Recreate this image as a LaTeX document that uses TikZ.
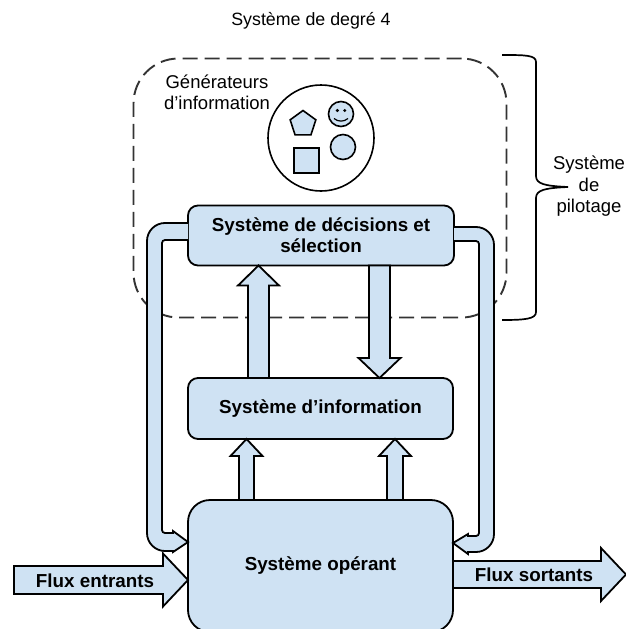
\documentclass[tikz,border=0pt]{standalone}
\usepackage{fontspec}
\setmainfont{Liberation Sans}
\usepackage{tikz}
\usetikzlibrary{shapes.geometric,calc}

\definecolor{lightblue}{HTML}{CFE2F3}
\definecolor{dashgray}{HTML}{333333}

\tikzset{
    box/.style = {draw=black,fill=lightblue,line width=1.8pt,rounded corners=10pt,
                  inner sep=0pt,outer sep=0pt,align=center,
                  font=\fontsize{18.8}{21}\selectfont\bfseries},
   flow/.style = {draw=black,fill=lightblue,line width=1.8pt},
  token/.style = {draw=black,fill=lightblue,line width=1.6pt,inner sep=0pt,outer sep=0pt},
  plain/.style = {inner sep=0pt,align=center,font=\fontsize{18.5}{21.5}\selectfont},
  label/.style = {inner sep=0pt,font=\fontsize{18.8}{21}\selectfont\bfseries}
}

% base, tip, half shaft, half head, head length
\newcommand{\blockarrow}[5]{
\coordinate (neck) at ($(#2)!#5!(#1)$);
\draw[flow] ($(#1)!#3!90:(#2)$) -- ($(neck)!#3!90:(#2)$) -- ($(neck)!#4!90:(#2)$)
 -- (#2) -- ($(neck)!#4!-90:(#2)$) -- ($(neck)!#3!-90:(#2)$) -- ($(#1)!#3!-90:(#2)$) -- cycle;
}

\begin{document}
\begin{tikzpicture}[x=1pt,y=-1pt]
\useasboundingbox (0,0) rectangle (626,629);

\node[plain,font=\fontsize{17.8}{21}\selectfont] (title) at (311,20.5) {Système de degré 4};

% pilotage
\node[draw=dashgray,line width=1.9pt,dash pattern=on 15pt off 7pt,rounded corners=45pt,
      minimum width=373pt,minimum height=259pt,inner sep=0pt] (pilot) at (320,188) {};
\node[plain] (generators) at (217,92.5) {Générateurs\\d’information};

\node[draw=black,fill=white,circle,line width=1.6pt,minimum size=106pt,inner sep=0pt] (pool) at (321,138) {};
\node[token,regular polygon,regular polygon sides=5,minimum size=27pt] (pentagon) at (303,124) {};
\node[token,minimum size=25pt] (square) at (306.5,160.5) {};
\node[token,circle,minimum size=25pt] (disc) at (343,147) {};
\node[token,circle,minimum size=25pt] (smiley) at (341,114) {};
\fill ($(smiley)+(-3.7,-3.5)$) circle (1.7pt);
\fill ($(smiley)+(3.7,-3.5)$) circle (1.7pt);
\draw[line width=1.2pt] ($(smiley)+(-7,4.5)$) .. controls ($(smiley)+(-3,8)$) and ($(smiley)+(3,8)$) .. ($(smiley)+(7,4.5)$);

% main boxes
\node[box,minimum width=266pt,minimum height=60pt] (decisions) at (321,235.5) {Système de décisions et\\sélection};
\node[box,minimum width=265pt,minimum height=61pt] (info) at (320.5,408.5) {Système d’information};
\node[box,rounded corners=22pt,minimum width=265pt,minimum height=132pt] (operant) at (320.5,566) {Système opérant};

% vertical arrows
\blockarrow{258.5,0 |- info.north}{258.5,0 |- decisions.south}{10.5pt}{20.5pt}{20pt}
\blockarrow{379.5,0 |- decisions.south}{379.5,0 |- info.north}{10.5pt}{21pt}{20pt}
\blockarrow{246.5,0 |- operant.north}{246.5,0 |- info.south}{7.5pt}{16pt}{17pt}
\blockarrow{395,0 |- operant.north}{395,0 |- info.south}{8pt}{16pt}{17pt}

% loops on both sides
\draw[flow] (decisions.west |- 0,223) [rounded corners=18pt] -- (147,223) -- (147,551)
 [sharp corners] -- (173,551) -- (173,552) -- (operant.west |- 0,542) -- (173,531) -- (173,533)
 [rounded corners=3pt] -- (162,533) -- (162,240) [sharp corners] -- (decisions.west |- 0,240);
\draw[flow] (decisions.east |- 0,227) [rounded corners=18pt] -- (494,227) -- (494,552)
 [sharp corners] -- (468,552) -- (468,554) -- (operant.east |- 0,543) -- (468,534) -- (468,536)
 [rounded corners=3pt] -- (479,536) -- (479,241) [sharp corners] -- (decisions.east |- 0,241);

% flux
\blockarrow{14,580}{operant.west |- 0,580}{14pt}{26.5pt}{25pt}
\blockarrow{operant.east |- 0,574.5}{626,574.5}{13.5pt}{26.5pt}{25pt}
\node[label] (fluxin) at (95,580.5) {Flux entrants};
\node[label] (fluxout) at (534,575) {Flux sortants};

% brace
\draw[line width=1.7pt,black] (502,55) .. controls (525,55) and (536,55) .. (536,62) -- (536,176)
 .. controls (536,184) and (545,186) .. (568,187) .. controls (545,188) and (536,190) .. (536,198)
 -- (536,312) .. controls (536,319) and (525,320) .. (502,320);
\node[plain] (pilotage) at (589,186.5) {Système\\de\\pilotage};
\end{tikzpicture}
\end{document}
